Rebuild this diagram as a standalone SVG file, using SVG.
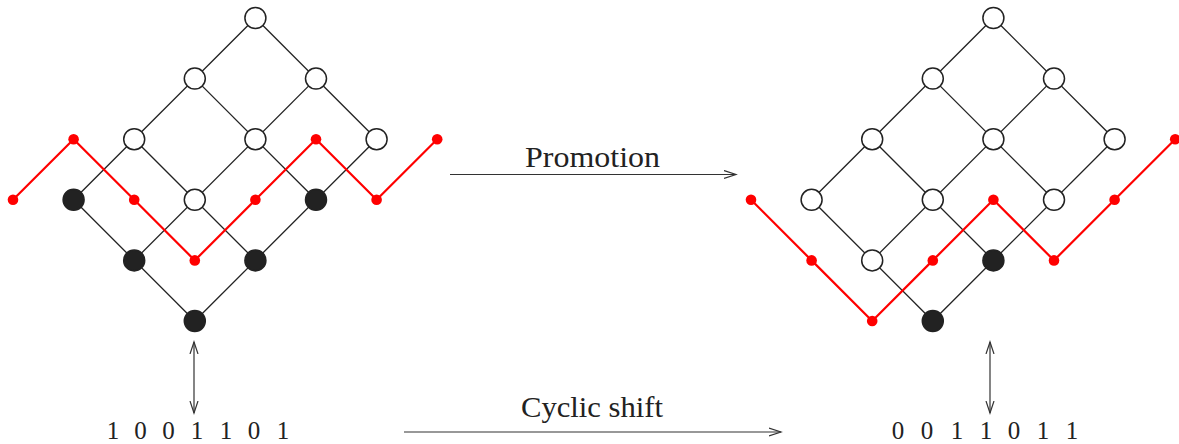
<svg xmlns="http://www.w3.org/2000/svg" width="1179" height="444" viewBox="0 0 1179 444">
<style>
.e{stroke:#222;stroke-width:1.3;fill:none}
.w{fill:#fff;stroke:#222;stroke-width:1.5}
.b{fill:#222;stroke:#222;stroke-width:1.5}
.rp{stroke:#f00;stroke-width:2.2;fill:none;stroke-linejoin:round}
.rd{fill:#f00}
.a{stroke:#333;stroke-width:1.2;fill:none}
.t{font-family:"Liberation Serif","DejaVu Serif",serif;fill:#222}
</style>
<defs>
<marker id="ah" markerWidth="14" markerHeight="10" refX="12" refY="5" orient="auto-start-reverse" markerUnits="userSpaceOnUse">
<path d="M0,1 L12,5 L0,9" fill="none" stroke="#333" stroke-width="1.2"/>
</marker>
</defs>
<g id="connectors">
<g id="left-lattice-edges">
<line class="e" x1="255.4" y1="18" x2="73.6" y2="199.8"/>
<line class="e" x1="316" y1="78.6" x2="134.2" y2="260.4"/>
<line class="e" x1="376.6" y1="139.2" x2="194.8" y2="321"/>
<line class="e" x1="255.4" y1="18" x2="376.6" y2="139.2"/>
<line class="e" x1="194.8" y1="78.6" x2="316" y2="199.8"/>
<line class="e" x1="134.2" y1="139.2" x2="255.4" y2="260.4"/>
<line class="e" x1="73.6" y1="199.8" x2="194.8" y2="321"/>
</g>
<g id="right-lattice-edges">
<line class="e" x1="993.4" y1="18" x2="811.6" y2="199.8"/>
<line class="e" x1="1054" y1="78.6" x2="872.2" y2="260.4"/>
<line class="e" x1="1114.6" y1="139.2" x2="932.8" y2="321"/>
<line class="e" x1="993.4" y1="18" x2="1114.6" y2="139.2"/>
<line class="e" x1="932.8" y1="78.6" x2="1054" y2="199.8"/>
<line class="e" x1="872.2" y1="139.2" x2="993.4" y2="260.4"/>
<line class="e" x1="811.6" y1="199.8" x2="932.8" y2="321"/>
</g>
<polyline id="left-path" class="rp" points="13,199.8 73.6,139.2 134.2,199.8 194.8,260.4 255.4,199.8 316,139.2 376.6,199.8 437.2,139.2"/>
<polyline id="right-path" class="rp" points="751,199.8 811.6,260.4 872.2,321 932.8,260.4 993.4,199.8 1054,260.4 1114.6,199.8 1175.2,139.2"/>
<line id="promotion-arrow" class="a" x1="450" y1="174.5" x2="736" y2="174.5" marker-end="url(#ah)"/>
<line id="shift-arrow" class="a" x1="404" y1="432" x2="781" y2="432" marker-end="url(#ah)"/>
<line id="left-bij" class="a" x1="194" y1="342" x2="194" y2="413" marker-start="url(#ah)" marker-end="url(#ah)"/>
<line id="right-bij" class="a" x1="990" y1="342" x2="990" y2="413" marker-start="url(#ah)" marker-end="url(#ah)"/>
</g>
<g id="left-path-dots">
<circle class="rd" cx="13" cy="199.8" r="5.3"/>
<circle class="rd" cx="73.6" cy="139.2" r="5.3"/>
<circle class="rd" cx="134.2" cy="199.8" r="5.3"/>
<circle class="rd" cx="194.8" cy="260.4" r="5.3"/>
<circle class="rd" cx="255.4" cy="199.8" r="5.3"/>
<circle class="rd" cx="316" cy="139.2" r="5.3"/>
<circle class="rd" cx="376.6" cy="199.8" r="5.3"/>
<circle class="rd" cx="437.2" cy="139.2" r="5.3"/>
</g>
<g id="right-path-dots">
<circle class="rd" cx="751" cy="199.8" r="5.3"/>
<circle class="rd" cx="811.6" cy="260.4" r="5.3"/>
<circle class="rd" cx="872.2" cy="321" r="5.3"/>
<circle class="rd" cx="932.8" cy="260.4" r="5.3"/>
<circle class="rd" cx="993.4" cy="199.8" r="5.3"/>
<circle class="rd" cx="1054" cy="260.4" r="5.3"/>
<circle class="rd" cx="1114.6" cy="199.8" r="5.3"/>
<circle class="rd" cx="1175.2" cy="139.2" r="5.3"/>
</g>
<g id="left-lattice">
<g id="L40"><circle class="w" cx="255.4" cy="18" r="10.5"/></g>
<g id="L31"><circle class="w" cx="194.8" cy="78.6" r="10.5"/></g>
<g id="L51"><circle class="w" cx="316" cy="78.6" r="10.5"/></g>
<g id="L22"><circle class="w" cx="134.2" cy="139.2" r="10.5"/></g>
<g id="L42"><circle class="w" cx="255.4" cy="139.2" r="10.5"/></g>
<g id="L62"><circle class="w" cx="376.6" cy="139.2" r="10.5"/></g>
<g id="L13"><circle class="b" cx="73.6" cy="199.8" r="10.5"/></g>
<g id="L33"><circle class="w" cx="194.8" cy="199.8" r="10.5"/></g>
<g id="L53"><circle class="b" cx="316" cy="199.8" r="10.5"/></g>
<g id="L24"><circle class="b" cx="134.2" cy="260.4" r="10.5"/></g>
<g id="L44"><circle class="b" cx="255.4" cy="260.4" r="10.5"/></g>
<g id="L35"><circle class="b" cx="194.8" cy="321" r="10.5"/></g>
</g>
<g id="right-lattice">
<g id="R40"><circle class="w" cx="993.4" cy="18" r="10.5"/></g>
<g id="R31"><circle class="w" cx="932.8" cy="78.6" r="10.5"/></g>
<g id="R51"><circle class="w" cx="1054" cy="78.6" r="10.5"/></g>
<g id="R22"><circle class="w" cx="872.2" cy="139.2" r="10.5"/></g>
<g id="R42"><circle class="w" cx="993.4" cy="139.2" r="10.5"/></g>
<g id="R62"><circle class="w" cx="1114.6" cy="139.2" r="10.5"/></g>
<g id="R13"><circle class="w" cx="811.6" cy="199.8" r="10.5"/></g>
<g id="R33"><circle class="w" cx="932.8" cy="199.8" r="10.5"/></g>
<g id="R53"><circle class="w" cx="1054" cy="199.8" r="10.5"/></g>
<g id="R24"><circle class="w" cx="872.2" cy="260.4" r="10.5"/></g>
<g id="R44"><circle class="b" cx="993.4" cy="260.4" r="10.5"/></g>
<g id="R35"><circle class="b" cx="932.8" cy="321" r="10.5"/></g>
</g>
<g id="labels" class="t">
<text x="592.5" y="167" font-size="30" text-anchor="middle" textLength="135" lengthAdjust="spacingAndGlyphs">Promotion</text>
<text x="592" y="417" font-size="30" text-anchor="middle" textLength="142" lengthAdjust="spacingAndGlyphs">Cyclic shift</text>
<g id="left-word" font-size="25" text-anchor="middle">
<text x="113" y="439">1</text><text x="140.5" y="439">0</text><text x="168.5" y="439">0</text><text x="197" y="439">1</text><text x="226" y="439">1</text><text x="254" y="439">0</text><text x="283" y="439">1</text>
</g>
<g id="right-word" font-size="25" text-anchor="middle">
<text x="898" y="439">0</text><text x="927" y="439">0</text><text x="957" y="439">1</text><text x="986" y="439">1</text><text x="1014" y="439">0</text><text x="1043" y="439">1</text><text x="1072" y="439">1</text>
</g>
</g>
</svg>
